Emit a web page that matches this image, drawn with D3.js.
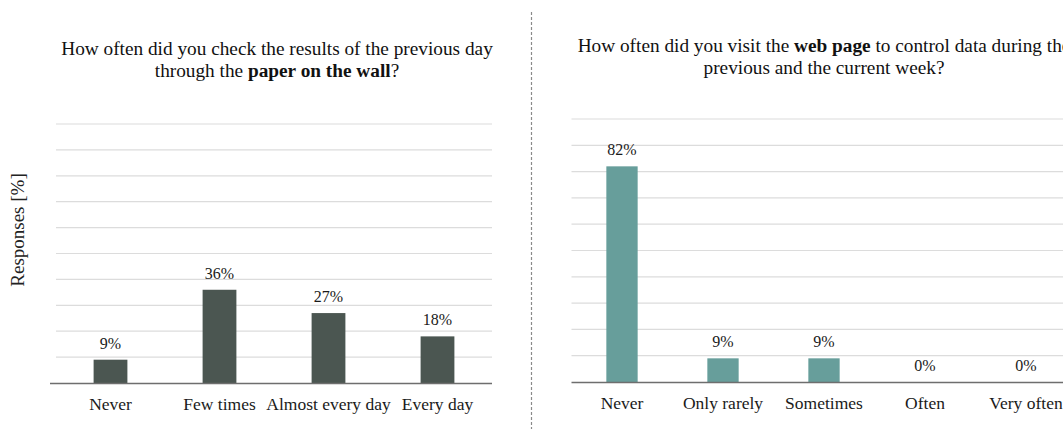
<!DOCTYPE html>
<html>
<head>
<meta charset="utf-8">
<script src="https://cdn.jsdelivr.net/npm/d3@7"></script>
<style>
  html, body { margin: 0; padding: 0; background: #fff; overflow: hidden; }
  svg { display: block; }
  svg text { font-family: "Liberation Serif", "Times New Roman", Times, serif !important; }
</style>
</head>
<body>
<svg id="chart" width="1063" height="429"></svg>
<script>
// Survey answers, percentage of responses
const paperCategories = ["Never", "Few times", "Almost every day", "Every day"];
const paperValues = [9, 36, 27, 18];

const webCategories = ["Never", "Only rarely", "Sometimes", "Often", "Very often"];
const webValues = [82, 9, 9, 0, 0];

const gridTicks = [10, 20, 30, 40, 50, 60, 70, 80, 90, 100];

const svg = d3.select("#chart");

function drawPanel(opts) {
  const g = svg.append("g");
  const x = d3.scaleBand()
    .domain(opts.categories)
    .range([opts.x0, opts.x1])
    .paddingInner(0.69)
    .paddingOuter(0.345);
  const y = d3.scaleLinear().domain([0, 100]).range([opts.base, opts.top]);

  // horizontal gridlines
  g.append("g")
    .selectAll("line")
    .data(gridTicks)
    .join("line")
    .attr("x1", opts.x0)
    .attr("x2", opts.x1)
    .attr("y1", d => y(d))
    .attr("y2", d => y(d))
    .attr("stroke", "#dcdcdc")
    .attr("stroke-width", 1.2);

  // bars
  g.append("g")
    .selectAll("rect")
    .data(opts.values)
    .join("rect")
    .attr("x", (d, i) => x(opts.categories[i]))
    .attr("width", x.bandwidth())
    .attr("y", d => y(d))
    .attr("height", d => y(0) - y(d))
    .attr("fill", opts.color);

  // baseline axis with category labels
  const axis = g.append("g")
    .attr("transform", `translate(0,${y(0)})`)
    .call(d3.axisBottom(x).tickSize(0).tickPadding(15));
  axis.select(".domain")
    .attr("d", `M${opts.axisStart},0.5H${opts.x1}`)
    .attr("stroke", "#6e6e6e")
    .attr("stroke-width", 1.6);
  axis.selectAll("text")
    .attr("font-size", 17.5)
    .attr("fill", "#1a1a1a");

  // value labels
  g.append("g")
    .selectAll("text")
    .data(opts.values)
    .join("text")
    .attr("x", (d, i) => x(opts.categories[i]) + x.bandwidth() / 2)
    .attr("y", d => y(d) - 11)
    .attr("text-anchor", "middle")
    .attr("font-size", 16)
    .attr("fill", "#1a1a1a")
    .text(d => d + "%");

  // title
  const title = g.append("text")
    .attr("text-anchor", "middle")
    .attr("font-size", 19.3)
    .attr("fill", "#111");
  opts.title.forEach((line, li) => {
    const t = title.append("tspan")
      .attr("x", opts.titleX)
      .attr("y", opts.titleY + li * 22);
    line.forEach(part => {
      t.append("tspan")
        .attr("font-weight", part.bold ? "bold" : null)
        .text(part.text);
    });
  });
}

drawPanel({
  categories: paperCategories,
  values: paperValues,
  x0: 56, x1: 492, axisStart: 50,
  top: 124, base: 383,
  color: "#4b5651",
  titleX: 277, titleY: 55,
  title: [
    [{ text: "How often did you check the results of the previous day" }],
    [{ text: "through the " }, { text: "paper on the wall", bold: true }, { text: "?" }]
  ]
});

// the right panel runs past the page edge
drawPanel({
  categories: webCategories,
  values: webValues,
  x0: 571.5, x1: 1076.5, axisStart: 571.5,
  top: 119, base: 382,
  color: "#679e9b",
  titleX: 824, titleY: 51.5,
  title: [
    [{ text: "How often did you visit the " }, { text: "web page", bold: true }, { text: " to control data during the" }],
    [{ text: "previous and the current week?" }]
  ]
});

// y axis title
svg.append("text")
  .attr("transform", "translate(23.5,230) rotate(-90)")
  .attr("text-anchor", "middle")
  .attr("font-size", 19)
  .attr("fill", "#222")
  .text("Responses [%]");

// dashed separator between the two panels
svg.append("line")
  .attr("x1", 531.5).attr("x2", 531.5)
  .attr("y1", 12).attr("y2", 429)
  .attr("stroke", "#8a8a8a")
  .attr("stroke-width", 1.2)
  .attr("stroke-dasharray", "3,2");
</script>
</body>
</html>
